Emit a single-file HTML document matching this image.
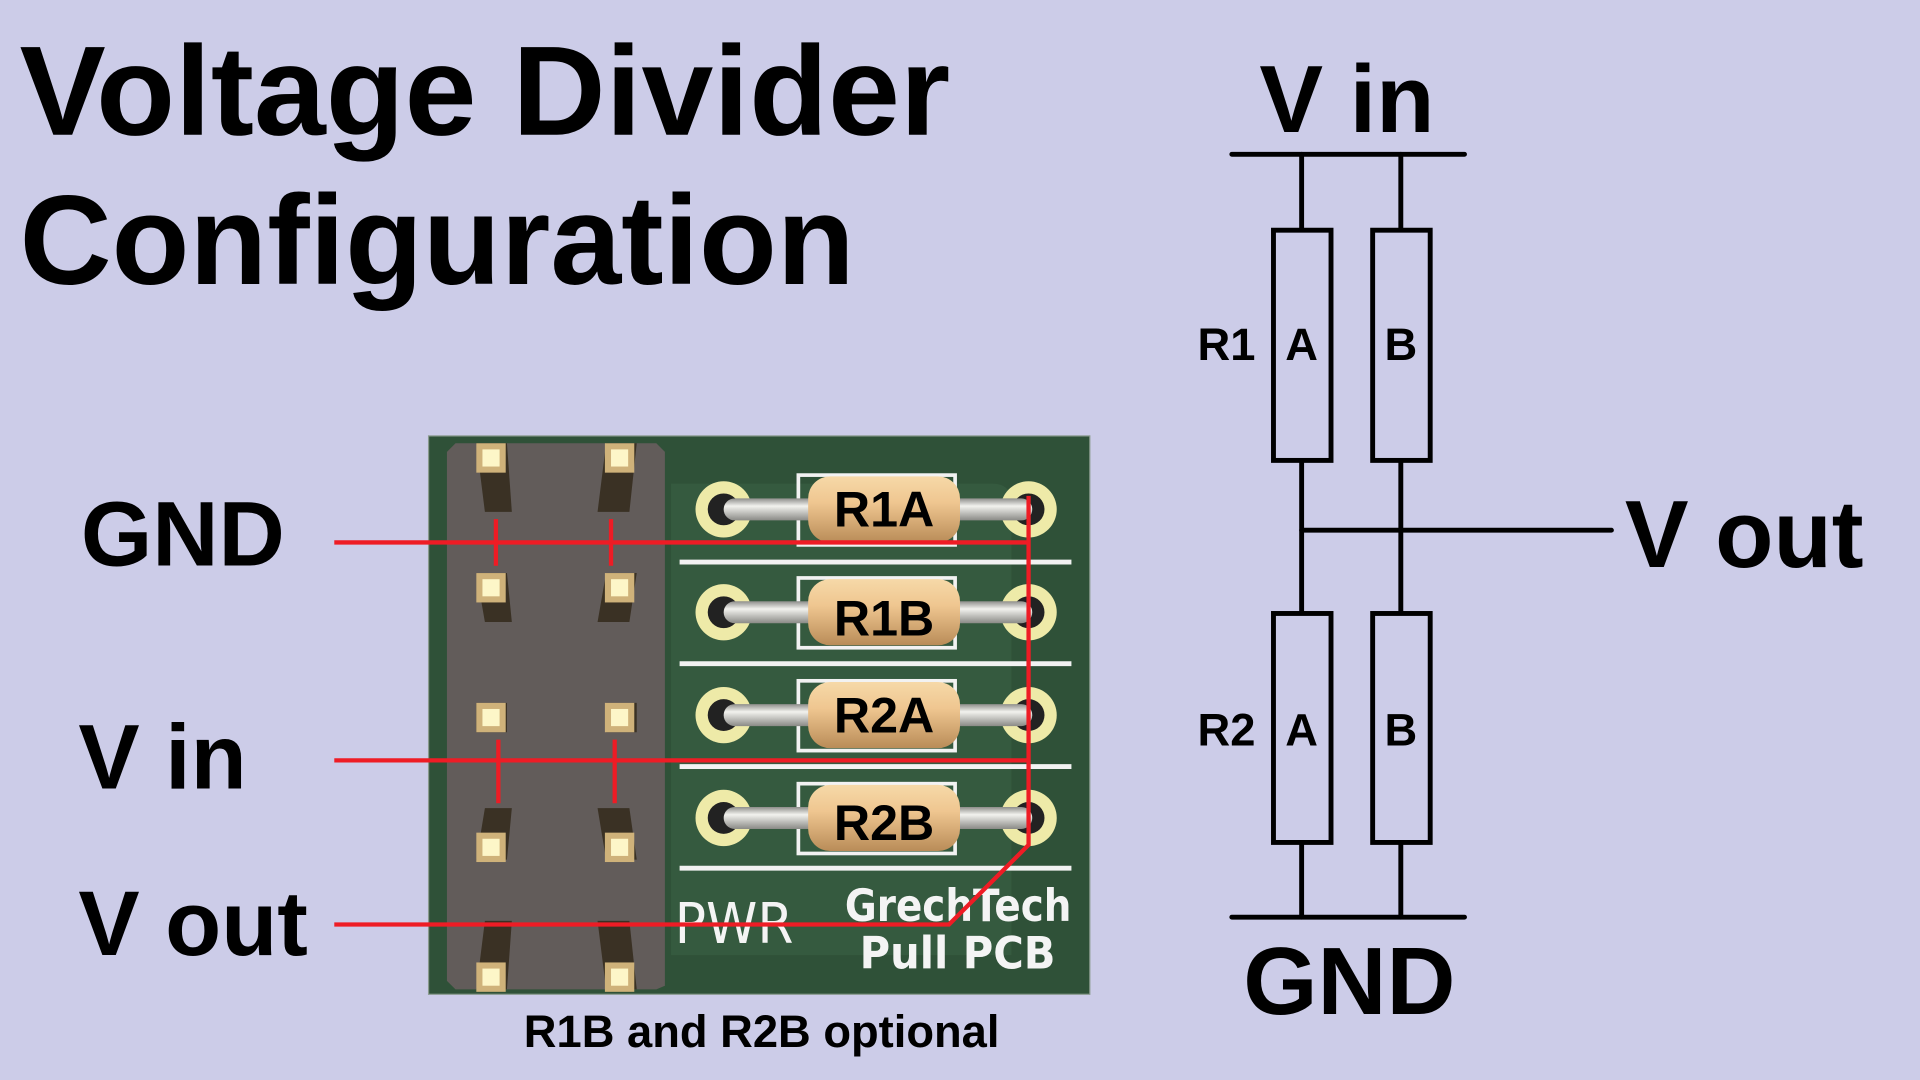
<!DOCTYPE html>
<html><head><meta charset="utf-8"><style>
html,body{margin:0;padding:0;background:#cccce8;}
svg{display:block}
text{font-family:"Liberation Sans",Arial,sans-serif;font-weight:bold;fill:#000}
text.silk{fill:#f4f4f4;font-family:"DejaVu Sans","Liberation Sans",sans-serif}
</style></head><body>
<svg width="1920" height="1080" viewBox="0 0 1568 882" xmlns="http://www.w3.org/2000/svg">
<defs>
<linearGradient id="body" x1="0" y1="0" x2="0" y2="1">
<stop offset="0" stop-color="#f6d9a8"/><stop offset="0.4" stop-color="#efc690"/><stop offset="1" stop-color="#b98c58"/>
</linearGradient>
<linearGradient id="lead" x1="0" y1="0" x2="0" y2="1">
<stop offset="0" stop-color="#8d8d8a"/><stop offset="0.35" stop-color="#f2f2ee"/><stop offset="1" stop-color="#8a8a86"/>
</linearGradient>
</defs>
<rect width="1568" height="882" fill="#cccce8"/>
<text x="16" y="110" font-size="104" textLength="760" lengthAdjust="spacingAndGlyphs">Voltage Divider</text>
<text x="16" y="232" font-size="104" textLength="682" lengthAdjust="spacingAndGlyphs">Configuration</text>

<!-- PCB -->
<rect x="350" y="356" width="540" height="456" fill="#2f5138"/>
<rect x="350" y="356" width="540" height="456" fill="none" stroke="#8a9a8e" stroke-width="1"/>
<path d="M548 395 H810 Q826 395 826 410 V780 H548 Z" fill="#3a6345" opacity="0.55"/>
<path d="M372 362 H536 L543 369 V805 L536 808 H372 L365 801 V369 Z" fill="#625c5a"/>
<g fill="#3a3124">
<path d="M389 362 H414 L418 418 H396 Z"/><path d="M495 362 H520 L514 418 H488 Z"/>
<path d="M389 468 H414 L418 508 H396 Z"/><path d="M495 468 H520 L514 508 H488 Z"/>
<path d="M389 574 H414 L414 598 H389 Z"/><path d="M495 574 H520 L520 598 H495 Z"/>
<path d="M396 660 H418 L414 702 H389 Z"/><path d="M488 660 H514 L520 702 H495 Z"/>
<path d="M396 752 H418 L414 808 H389 Z"/><path d="M488 752 H514 L520 808 H495 Z"/>
</g>
<g fill="#cfb27a">
<rect x="389" y="362" width="24" height="24"/><rect x="494" y="362" width="24" height="24"/>
<rect x="389" y="468" width="24" height="24"/><rect x="494" y="468" width="24" height="24"/>
<rect x="389" y="574" width="24" height="24"/><rect x="494" y="574" width="24" height="24"/>
<rect x="389" y="680" width="24" height="24"/><rect x="494" y="680" width="24" height="24"/>
<rect x="389" y="786" width="24" height="24"/><rect x="494" y="786" width="24" height="24"/>
</g>
<g fill="#fdf6c8">
<rect x="394" y="367" width="14" height="14"/><rect x="499" y="367" width="14" height="14"/>
<rect x="394" y="473" width="14" height="14"/><rect x="499" y="473" width="14" height="14"/>
<rect x="394" y="579" width="14" height="14"/><rect x="499" y="579" width="14" height="14"/>
<rect x="394" y="685" width="14" height="14"/><rect x="499" y="685" width="14" height="14"/>
<rect x="394" y="791" width="14" height="14"/><rect x="499" y="791" width="14" height="14"/>
</g>
<g stroke="#f2f2f2" stroke-width="4">
<line x1="555" y1="459" x2="875" y2="459"/><line x1="555" y1="542" x2="875" y2="542"/>
<line x1="555" y1="626" x2="875" y2="626"/><line x1="555" y1="709" x2="875" y2="709"/>
</g>
<g transform="translate(0,416)">
<circle cx="591" cy="0" r="23" fill="#eeeaa8"/><circle cx="591" cy="0" r="13" fill="#222"/>
<circle cx="840" cy="0" r="23" fill="#eeeaa8"/><circle cx="840" cy="0" r="13" fill="#222"/>
<rect x="652" y="-28" width="128" height="57" fill="none" stroke="#f2f2f2" stroke-width="3"/>
<rect x="591" y="-9" width="252" height="18" rx="9" fill="url(#lead)"/>
<rect x="660" y="-27" width="124" height="54" rx="18" fill="url(#body)"/>
<text x="722" y="14" font-size="41" text-anchor="middle">R1A</text>
</g>
<g transform="translate(0,500)">
<circle cx="591" cy="0" r="23" fill="#eeeaa8"/><circle cx="591" cy="0" r="13" fill="#222"/>
<circle cx="840" cy="0" r="23" fill="#eeeaa8"/><circle cx="840" cy="0" r="13" fill="#222"/>
<rect x="652" y="-28" width="128" height="57" fill="none" stroke="#f2f2f2" stroke-width="3"/>
<rect x="591" y="-9" width="252" height="18" rx="9" fill="url(#lead)"/>
<rect x="660" y="-27" width="124" height="54" rx="18" fill="url(#body)"/>
<text x="722" y="19" font-size="41" text-anchor="middle">R1B</text>
</g>
<g transform="translate(0,584)">
<circle cx="591" cy="0" r="23" fill="#eeeaa8"/><circle cx="591" cy="0" r="13" fill="#222"/>
<circle cx="840" cy="0" r="23" fill="#eeeaa8"/><circle cx="840" cy="0" r="13" fill="#222"/>
<rect x="652" y="-28" width="128" height="57" fill="none" stroke="#f2f2f2" stroke-width="3"/>
<rect x="591" y="-9" width="252" height="18" rx="9" fill="url(#lead)"/>
<rect x="660" y="-27" width="124" height="54" rx="18" fill="url(#body)"/>
<text x="722" y="14" font-size="41" text-anchor="middle">R2A</text>
</g>
<g transform="translate(0,668)">
<circle cx="591" cy="0" r="23" fill="#eeeaa8"/><circle cx="591" cy="0" r="13" fill="#222"/>
<circle cx="840" cy="0" r="23" fill="#eeeaa8"/><circle cx="840" cy="0" r="13" fill="#222"/>
<rect x="652" y="-28" width="128" height="57" fill="none" stroke="#f2f2f2" stroke-width="3"/>
<rect x="591" y="-9" width="252" height="18" rx="9" fill="url(#lead)"/>
<rect x="660" y="-27" width="124" height="54" rx="18" fill="url(#body)"/>
<text x="722" y="18" font-size="41" text-anchor="middle">R2B</text>
</g>
<text class="silk" x="551" y="770" font-size="46" style="font-weight:normal" textLength="97" lengthAdjust="spacingAndGlyphs">PWR</text>
<text class="silk" x="690" y="752" font-size="36" textLength="185" lengthAdjust="spacingAndGlyphs">GrechTech</text>
<text class="silk" x="702" y="791" font-size="36" textLength="160" lengthAdjust="spacingAndGlyphs">Pull PCB</text>
<g stroke="#ee1c25" stroke-width="3.5" fill="none">
<line x1="273" y1="443" x2="840" y2="443"/>
<line x1="273" y1="621" x2="840" y2="621"/>
<polyline points="273,755 775,755 840,690 840,405"/>
<line x1="405" y1="424" x2="405" y2="462"/><line x1="499" y1="424" x2="499" y2="462"/>
<line x1="407" y1="604" x2="407" y2="656"/><line x1="502" y1="604" x2="502" y2="656"/>
</g>
<text x="66" y="462" font-size="75">GND</text>
<text x="64" y="644" font-size="75">V in</text>
<text x="64" y="780" font-size="75">V out</text>
<text x="622" y="855" font-size="37" text-anchor="middle">R1B and R2B optional</text>

<g stroke="#000" stroke-width="4" fill="none" stroke-linecap="round">
<line x1="1006" y1="126" x2="1196" y2="126"/>
<line x1="1006" y1="749" x2="1196" y2="749"/>
<line x1="1063" y1="126" x2="1063" y2="749"/>
<line x1="1144" y1="126" x2="1144" y2="749"/>
<line x1="1063" y1="433" x2="1316" y2="433"/>
</g>
<g stroke="#000" stroke-width="4" fill="#cccce8">
<rect x="1040" y="188" width="47" height="188"/>
<rect x="1121" y="188" width="47" height="188"/>
<rect x="1040" y="501" width="47" height="187"/>
<rect x="1121" y="501" width="47" height="187"/>
</g>
<text x="1100" y="108" font-size="78" text-anchor="middle">V in</text>
<text x="1102" y="828" font-size="78" text-anchor="middle">GND</text>
<text x="1327" y="463" font-size="78">V out</text>
<text x="978" y="294" font-size="37">R1</text>
<text x="1063" y="294" font-size="37" text-anchor="middle">A</text>
<text x="1144" y="294" font-size="37" text-anchor="middle">B</text>
<text x="978" y="609" font-size="37">R2</text>
<text x="1063" y="609" font-size="37" text-anchor="middle">A</text>
<text x="1144" y="609" font-size="37" text-anchor="middle">B</text>
</svg>
</body></html>
